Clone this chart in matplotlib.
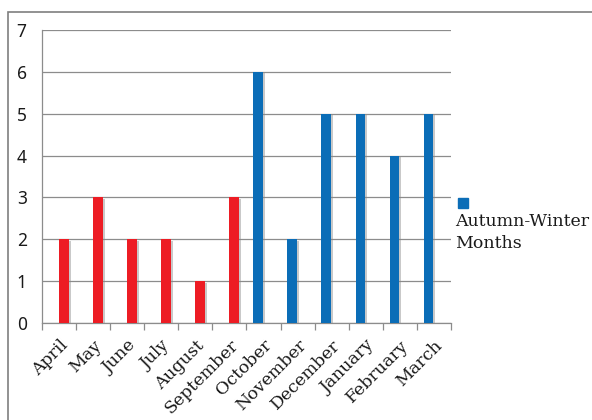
import matplotlib
matplotlib.use("Agg")
import matplotlib.pyplot as plt
import matplotlib.patheffects as pe
from matplotlib.patches import Rectangle
import numpy as np

months = ['April', 'May', 'June', 'July', 'August', 'September',
          'October', 'November', 'December', 'January', 'February', 'March']
spring_summer = [2, 3, 2, 2, 1, 3, 0, 0, 0, 0, 0, 0]
autumn_winter = [0, 0, 0, 0, 0, 0, 6, 2, 5, 5, 4, 5]
legend_label = 'Autumn-Winter\nMonths'

red = '#ED1C24'
blue = '#0B6DB7'
grid_col = '#8C8C8C'
text_col = '#1A1A1A'

plt.rcParams['font.family'] = ['DejaVu Serif']

fig = plt.figure(figsize=(5.92, 4.2), dpi=100)
ax = fig.add_axes([42 / 592, 1 - 323 / 420, (451 - 42) / 592, (323 - 30) / 420])

x = np.arange(len(months))
shadow = [pe.SimplePatchShadow(offset=(1.5, -1), shadow_rgbFace='#888888', alpha=0.45), pe.Normal()]

ss = np.array(spring_summer)
aw = np.array(autumn_winter)
m1 = ss > 0
m2 = aw > 0
b1 = ax.bar(x[m1] + 0.14, ss[m1], width=0.28, color=red, zorder=3)
b2 = ax.bar(x[m2] - 0.16, aw[m2], width=0.28, color=blue, zorder=3)
for p in list(b1) + list(b2):
    p.set_path_effects(shadow)

ax.set_xlim(-0.5, len(months) - 0.5)
ax.set_ylim(0, 7)
ax.set_yticks(range(0, 8))
ax.yaxis.grid(True, color=grid_col, linewidth=0.9, zorder=0)
ax.set_axisbelow(True)

ax.set_xticks(x)
ax.set_xticklabels(months, rotation=45, ha='right', rotation_mode='anchor',
                   fontsize=12.5, color=text_col)
ax.set_xticks(list(x - 0.5) + [len(months) - 0.5], minor=True)
ax.tick_params(axis='x', which='major', length=0, pad=10)
ax.tick_params(axis='x', which='minor', length=5, color=grid_col, width=0.9)
ax.tick_params(axis='y', length=0, labelcolor=text_col, pad=11)
for lbl in ax.get_yticklabels():
    lbl.set_fontfamily('Noto Sans')
    lbl.set_fontsize(12.5)

for s in ['top', 'right']:
    ax.spines[s].set_visible(False)
for s in ['left', 'bottom']:
    ax.spines[s].set_color(grid_col)
    ax.spines[s].set_linewidth(0.9)

# outer frame
fig.add_artist(Rectangle((8 / 592, -0.1), 1.2, 1 - 12 / 420 + 0.1, transform=fig.transFigure,
                         fill=False, edgecolor='#7F7F7F', linewidth=1.2))

# legend
fig.add_artist(Rectangle((458 / 592, 1 - 208 / 420), 10 / 592, 10 / 420,
                         transform=fig.transFigure, color=blue))
fig.text(455 / 592, 1 - 213 / 420, legend_label, fontsize=12.5, va='top', ha='left',
         linespacing=1.35, color=text_col)

fig.savefig('out.png', dpi=100)
